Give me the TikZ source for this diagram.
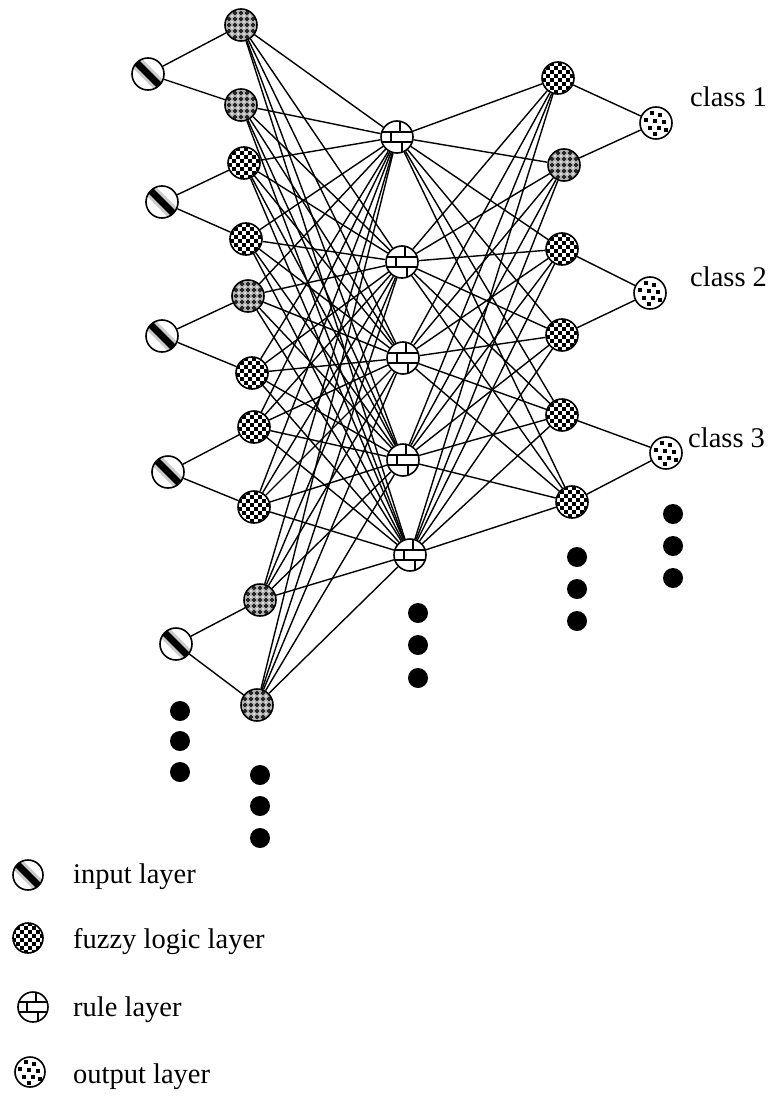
\documentclass[tikz,border=0pt]{standalone}
\usepackage{fontspec}
\setmainfont{Liberation Serif}
\begin{document}
\begin{tikzpicture}[x=1pt,y=-1pt,
  base/.style={circle, draw=black, line width=1.6pt, minimum size=32pt, inner sep=0pt, fill=white},
  inp/.style={base, path picture={\begin{scope}[shift={(path picture bounding box.center)}]
      \draw[gray!40, line width=13pt] (-22,-22) -- (22,22);
      \draw[black, line width=7pt] (-22,-22) -- (22,22);
    \end{scope}}},
  chk/.style={base, path picture={\begin{scope}[shift={(path picture bounding box.center)}]
      \foreach \i in {-16,-8,...,16}{\foreach \j in {-16,-8,...,16}{
        \fill[black] (\i,\j) rectangle ++(4,4);
        \fill[black] (\i+4,\j+4) rectangle ++(4,4);}}
    \end{scope}}},
  gry/.style={base, fill=gray!65, path picture={\begin{scope}[shift={(path picture bounding box.center)}]
      \foreach \i in {-18,-12,...,18}{\foreach \j in {-18,-12,...,18}{
        \fill[black!85] (\i-0.8,\j-2.2) rectangle (\i+0.8,\j+2.2);
        \fill[black!85] (\i-2.2,\j-0.8) rectangle (\i+2.2,\j+0.8);
        \fill[white!75!gray] (\i+3,\j+3) circle (1.3pt);}}
    \end{scope}}},
  rul/.style={base, path picture={\begin{scope}[shift={(path picture bounding box.center)}]
      \draw[line width=1.6pt] (-20,-5) -- (20,-5) (-20,5) -- (20,5)
        (3,-20) -- (3,-5) (-6,-5) -- (-6,5) (5,5) -- (5,20);
    \end{scope}}},
  outp/.style={base, path picture={\begin{scope}[shift={(path picture bounding box.center)}]
      \foreach \a/\b in {-4/-10, 4/-8, -10/-3, -1/-2, 8/-1, -6/5, 3/5, 10/7, -1/11}{
        \fill[black] (\a-1.8,\b-1.8) rectangle ++(3.6,3.6);}
    \end{scope}}},
  lg/.style={minimum size=30pt},
  conn/.style={line width=1.4pt},
  dotn/.style={circle, fill=black, minimum size=20pt, inner sep=0pt},
  lbl/.style={anchor=base west, inner sep=0pt, font=\fontsize{28.5}{34}\selectfont}
]
\useasboundingbox (0,0) rectangle (771,1097);

% input layer
\node[inp] (I1) at (148,74) {};
\node[inp] (I2) at (162,202) {};
\node[inp] (I3) at (162,336) {};
\node[inp] (I4) at (168,472) {};
\node[inp] (I5) at (176,644) {};

% fuzzy layer
\node[gry] (F1) at (241,25) {};
\node[gry] (F2) at (241,105) {};
\node[chk] (F3) at (244,163) {};
\node[chk] (F4) at (246,239) {};
\node[gry] (F5) at (248,296) {};
\node[chk] (F6) at (252,373) {};
\node[chk] (F7) at (254,427) {};
\node[chk] (F8) at (254,507) {};
\node[gry] (F9) at (260,600) {};
\node[gry] (F10) at (257,705) {};

% rule layer
\node[rul] (R1) at (397,137) {};
\node[rul] (R2) at (402,262) {};
\node[rul] (R3) at (403,358) {};
\node[rul] (R4) at (403,460) {};
\node[rul] (R5) at (410,555) {};

% second fuzzy layer
\node[chk] (G1) at (558,78) {};
\node[gry] (G2) at (564,165) {};
\node[chk] (G3) at (562,249) {};
\node[chk] (G4) at (562,335) {};
\node[chk] (G5) at (562,415) {};
\node[chk] (G6) at (572,502) {};

% output layer
\node[outp] (O1) at (656,123) {};
\node[outp] (O2) at (650,293) {};
\node[outp] (O3) at (666,453) {};

\node[lbl] (C1) at (690,107) {class 1};
\node[lbl] (C2) at (690,286) {class 2};
\node[lbl] (C3) at (688,447) {class 3};

% connectors
\foreach \i/\a/\b in {1/1/2, 2/3/4, 3/5/6, 4/7/8, 5/9/10}{
  \draw[conn] (I\i) -- (F\a);
  \draw[conn] (I\i) -- (F\b);
}
\foreach \f in {1,...,10}{\foreach \r in {1,...,5}{\draw[conn] (F\f) -- (R\r);}}
\foreach \r in {1,...,5}{\foreach \g in {1,...,6}{\draw[conn] (R\r) -- (G\g);}}
\foreach \o/\a/\b in {1/1/2, 2/3/4, 3/5/6}{
  \draw[conn] (G\a) -- (O\o);
  \draw[conn] (G\b) -- (O\o);
}

% ellipsis dots
\node[dotn] (d11) at (180,711) {};
\node[dotn] (d12) at (180,741) {};
\node[dotn] (d13) at (180,772) {};
\node[dotn] (d21) at (260,775) {};
\node[dotn] (d22) at (260,806) {};
\node[dotn] (d23) at (260,838) {};
\node[dotn] (d31) at (418,613) {};
\node[dotn] (d32) at (418,645) {};
\node[dotn] (d33) at (418,678) {};
\node[dotn] (d41) at (577,557) {};
\node[dotn] (d42) at (577,589) {};
\node[dotn] (d43) at (577,621) {};
\node[dotn] (d51) at (673,514) {};
\node[dotn] (d52) at (673,546) {};
\node[dotn] (d53) at (673,578) {};

% legend
\node[inp, lg] (L1) at (28,875) {};
\node[chk, lg] (L2) at (28,938) {};
\node[rul, lg] (L3) at (33,1007) {};
\node[outp, lg] (L4) at (30,1072) {};
\node[lbl] (T1) at (73,883) {input layer};
\node[lbl] (T2) at (73,948) {fuzzy logic layer};
\node[lbl] (T3) at (73,1016) {rule layer};
\node[lbl] (T4) at (73,1083) {output layer};
\end{tikzpicture}
\end{document}
